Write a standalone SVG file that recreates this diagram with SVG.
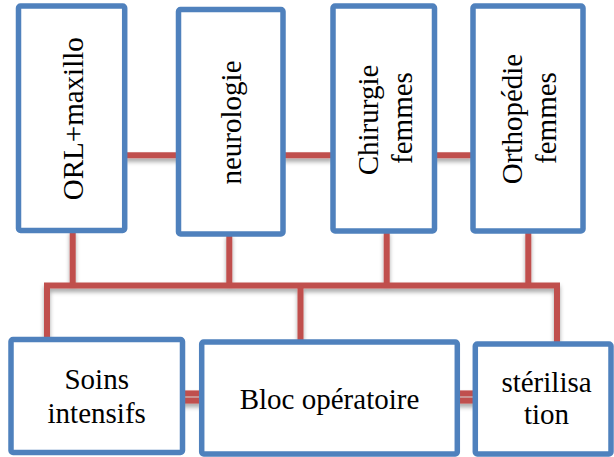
<svg xmlns="http://www.w3.org/2000/svg" width="614" height="457" viewBox="0 0 614 457">
  <defs>
    <filter id="shadow" x="-20%" y="-20%" width="140%" height="160%">
      <feDropShadow dx="0" dy="3.5" stdDeviation="2.2" flood-color="#000" flood-opacity="0.35"/>
    </filter>
    <style>
      .box { fill: #ffffff; stroke: #4F81BD; stroke-width: 5.5; }
      .link { fill: none; stroke: #C0504D; stroke-width: 6; stroke-linejoin: miter; }
      .lbl { font-family: "Liberation Serif", "Times New Roman", serif; font-size: 29px; fill: #000000; text-anchor: middle; }
    </style>
  </defs>
  <rect width="614" height="457" fill="#ffffff"/>

  <!-- connectors -->
  <g id="connectors" filter="url(#shadow)">
    <!-- top row links -->
    <line class="link" x1="125" y1="155.3" x2="180" y2="155.3"/>
    <line class="link" x1="283" y1="155.3" x2="333" y2="155.3"/>
    <line class="link" x1="434" y1="155.3" x2="473" y2="155.3"/>
    <!-- drops from top boxes to the bus -->
    <line class="link" x1="72.7" y1="230" x2="72.7" y2="285.5"/>
    <line class="link" x1="229.3" y1="234" x2="229.3" y2="285.5"/>
    <line class="link" x1="386.7" y1="231" x2="386.7" y2="285.5"/>
    <line class="link" x1="528.3" y1="231" x2="528.3" y2="285.5"/>
    <!-- bus with outer legs -->
    <path class="link" d="M47,340 V285.5 H557 V345"/>
    <!-- middle leg -->
    <line class="link" x1="300.5" y1="285.5" x2="300.5" y2="343"/>
    <!-- bottom row double links -->
    <line class="link" x1="182" y1="393.4" x2="202" y2="393.4"/>
    <line class="link" x1="182" y1="400.6" x2="202" y2="400.6"/>
    <line class="link" x1="457" y1="393.4" x2="476" y2="393.4"/>
    <line class="link" x1="457" y1="400.6" x2="476" y2="400.6"/>
  </g>

  <!-- top row -->
  <g id="orl-maxillo">
    <rect class="box" x="18.5" y="6" width="106.2" height="224.5" rx="2"/>
    <text class="lbl" transform="translate(83,118.7) rotate(-90)">ORL+maxillo</text>
  </g>
  <g id="neurologie">
    <rect class="box" x="178.5" y="9.5" width="104.5" height="224.5" rx="2"/>
    <text class="lbl" transform="translate(241,122.5) rotate(-90)">neurologie</text>
  </g>
  <g id="chirurgie-femmes">
    <rect class="box" x="333" y="6" width="101.5" height="225" rx="2"/>
    <text class="lbl" transform="translate(377.5,120) rotate(-90)">Chirurgie</text>
    <text class="lbl" transform="translate(411.5,118) rotate(-90)">femmes</text>
  </g>
  <g id="orthopedie-femmes">
    <rect class="box" x="473" y="6" width="110" height="225" rx="2"/>
    <text class="lbl" transform="translate(521.5,119) rotate(-90)">Orthopédie</text>
    <text class="lbl" transform="translate(556,118) rotate(-90)">femmes</text>
  </g>

  <!-- bottom row -->
  <g id="soins-intensifs">
    <rect class="box" x="11" y="339.5" width="171.5" height="113" rx="2"/>
    <text class="lbl" x="96.7" y="389">Soins</text>
    <text class="lbl" x="96.7" y="423.3">intensifs</text>
  </g>
  <g id="bloc-operatoire">
    <rect class="box" x="201.7" y="342" width="255.6" height="112" rx="2"/>
    <text class="lbl" x="329.5" y="409">Bloc opératoire</text>
  </g>
  <g id="sterilisation">
    <rect class="box" x="475.3" y="344" width="135.7" height="110" rx="2"/>
    <text class="lbl" x="546.5" y="392.3">stérilisa</text>
    <text class="lbl" x="546.5" y="424">tion</text>
  </g>
</svg>
